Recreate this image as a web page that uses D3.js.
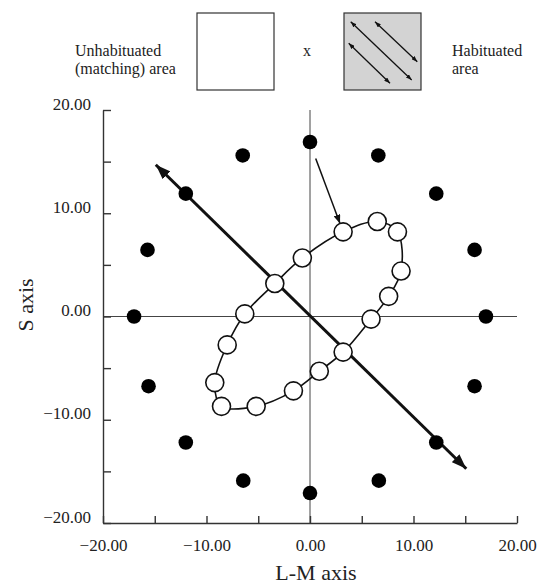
<!DOCTYPE html>
<html>
<head>
<meta charset="utf-8">
<script src="https://cdn.jsdelivr.net/npm/d3@7"></script>
<style>
  html, body { margin: 0; padding: 0; background: #fff; }
  svg { display: block; }
  text { font-family: "Liberation Serif", "Times New Roman", serif; fill: #222; }
</style>
</head>
<body>
<svg id="chart" width="544" height="586"></svg>
<script>
// Test colours arranged on a circle in the L-M / S plane
const ringX = [17.0, 15.9, 12.2, 6.6, 0.0, -6.5, -12.0, -15.7, -17.0, -15.6, -12.0, -6.45, 0.0, 6.65, 12.2, 15.9];
const ringY = [0.0, 6.45, 11.9, 15.6, 16.9, 15.6, 11.9, 6.45, 0.0, -6.75, -12.2, -15.9, -17.1, -15.9, -12.2, -6.75];

// Matches after habituation (closed contour)
const loopX = [3.2, 6.5, 8.45, 8.8, 7.6, 5.9, 3.2, 0.9, -1.6, -5.2, -8.55, -9.2, -8.0, -6.3, -3.4, -0.74];
const loopY = [8.2, 9.2, 8.2, 4.4, 1.95, -0.25, -3.45, -5.3, -7.2, -8.7, -8.7, -6.4, -2.75, 0.25, 3.2, 5.67];

// Habituation direction (double-headed) and pointer arrow
const habX = [-14.9, 15.1];
const habY = [14.7, -14.75];
const pointerX = [0.55, 2.9];
const pointerY = [15.3, 9.0];

const tickValues = [-20, -15, -10, -5, 0, 5, 10, 15, 20];
const labelledTicks = [-20, -10, 0, 10, 20];
const xTitle = "L-M axis";
const yTitle = "S axis";
const legendLeft = ["Unhabituated", "(matching) area"];
const legendRight = ["Habituated", "area"];

const svg = d3.select("#chart");
const x = d3.scaleLinear().domain([-20, 20]).range([103, 517]);
const y = d3.scaleLinear().domain([-20, 20]).range([523, 110]);
const fmt = d3.format(".2f");
const tickFmt = d => labelledTicks.includes(d) ? fmt(d) : "";

// Arrowhead markers
const defs = svg.append("defs");
function marker(id, len, wid, orient) {
  defs.append("marker")
    .attr("id", id)
    .attr("markerUnits", "userSpaceOnUse")
    .attr("viewBox", `0 ${-wid / 2} ${len} ${wid}`)
    .attr("refX", len).attr("refY", 0)
    .attr("markerWidth", len).attr("markerHeight", wid)
    .attr("orient", orient)
    .append("path")
    .attr("d", `M0,${-wid / 2}L${len},0L0,${wid / 2}Z`)
    .attr("fill", "#111");
}
marker("bigEnd", 15, 11, "auto");
marker("bigStart", 15, 11, "auto-start-reverse");
marker("smallEnd", 9, 7, "auto");
marker("tinyEnd", 6, 4.5, "auto");
marker("tinyStart", 6, 4.5, "auto-start-reverse");

// Legend
const legend = svg.append("g");
legend.selectAll("text.left").data(legendLeft).join("text")
  .attr("x", 75).attr("y", (d, i) => 56 + i * 17.5)
  .attr("font-size", 16).text(d => d);
legend.selectAll("text.right").data(legendRight).join("text")
  .attr("x", 452).attr("y", (d, i) => 56 + i * 17.5)
  .attr("font-size", 16).text(d => d);
legend.append("rect").attr("x", 197).attr("y", 13).attr("width", 77).attr("height", 77)
  .attr("fill", "#fff").attr("stroke", "#333").attr("stroke-width", 1.2);
legend.append("text").attr("x", 307).attr("y", 56).attr("text-anchor", "middle")
  .attr("font-size", 16).text("x");
legend.append("rect").attr("x", 344).attr("y", 13).attr("width", 77).attr("height", 77)
  .attr("fill", "#d3d3d3").attr("stroke", "#333").attr("stroke-width", 1.2);
const hatch = [[350.7, 21.7, 411.7, 80], [375, 21.7, 417.3, 61.7], [348.7, 43.3, 390, 83.3]];
legend.selectAll("line.hatch").data(hatch).join("line")
  .attr("x1", d => d[0]).attr("y1", d => d[1]).attr("x2", d => d[2]).attr("y2", d => d[3])
  .attr("stroke", "#111").attr("stroke-width", 1.3)
  .attr("marker-start", "url(#tinyStart)").attr("marker-end", "url(#tinyEnd)");

// Crosshair through the origin
svg.append("line").attr("x1", x(-20)).attr("x2", x(20)).attr("y1", y(0)).attr("y2", y(0))
  .attr("stroke", "#444").attr("stroke-width", 1);
svg.append("line").attr("x1", x(0)).attr("x2", x(0)).attr("y1", y(20)).attr("y2", y(-20))
  .attr("stroke", "#444").attr("stroke-width", 1);

// Axes with inward ticks
const xAxis = d3.axisBottom(x).tickValues(tickValues).tickSize(-7).tickSizeOuter(0)
  .tickPadding(16).tickFormat(tickFmt);
const yAxis = d3.axisLeft(y).tickValues(tickValues).tickSize(-8).tickSizeOuter(0)
  .tickPadding(12).tickFormat(tickFmt);
const gx = svg.append("g").attr("transform", `translate(0,${y(-20)})`).call(xAxis);
const gy = svg.append("g").attr("transform", `translate(${x(-20)},0)`).call(yAxis);
[gx, gy].forEach(g => {
  g.select(".domain").attr("stroke", "#333").attr("stroke-width", 1.4);
  g.selectAll(".tick line").attr("stroke", "#333").attr("stroke-width", 1.4);
  g.selectAll("text").attr("font-size", 17).attr("fill", "#222")
    .style("font-family", "'Liberation Serif', serif");
});
gy.selectAll("text").attr("dy", "-0.05em");
gx.selectAll("text").attr("dy", "0.71em");

// Axis titles
svg.append("text").attr("x", 316).attr("y", 580).attr("text-anchor", "middle")
  .attr("font-size", 22).text(xTitle);
svg.append("text").attr("transform", `translate(33,305) rotate(-90)`)
  .attr("text-anchor", "middle").attr("font-size", 22).text(yTitle);

// Habituation axis
svg.append("line")
  .attr("x1", x(habX[0])).attr("y1", y(habY[0])).attr("x2", x(habX[1])).attr("y2", y(habY[1]))
  .attr("stroke", "#111").attr("stroke-width", 3)
  .attr("marker-start", "url(#bigStart)").attr("marker-end", "url(#bigEnd)");

// Pointer arrow
svg.append("line")
  .attr("x1", x(pointerX[0])).attr("y1", y(pointerY[0])).attr("x2", x(pointerX[1])).attr("y2", y(pointerY[1]))
  .attr("stroke", "#111").attr("stroke-width", 1.5)
  .attr("marker-end", "url(#smallEnd)");

// Contour through the matches
const loop = loopX.map((v, i) => [v, loopY[i]]);
svg.append("path").datum(loop)
  .attr("d", d3.line().x(d => x(d[0])).y(d => y(d[1])).curve(d3.curveCatmullRomClosed.alpha(0.5)))
  .attr("fill", "none").attr("stroke", "#111").attr("stroke-width", 1.6);

// Test colours
svg.selectAll("circle.ring").data(ringX.map((v, i) => [v, ringY[i]])).join("circle")
  .attr("class", "ring")
  .attr("cx", d => x(d[0])).attr("cy", d => y(d[1])).attr("r", 7.3)
  .attr("fill", "#000");

// Matches
svg.selectAll("circle.match").data(loop).join("circle")
  .attr("class", "match")
  .attr("cx", d => x(d[0])).attr("cy", d => y(d[1])).attr("r", 9)
  .attr("fill", "#fff").attr("stroke", "#111").attr("stroke-width", 1.6);
</script>
</body>
</html>
